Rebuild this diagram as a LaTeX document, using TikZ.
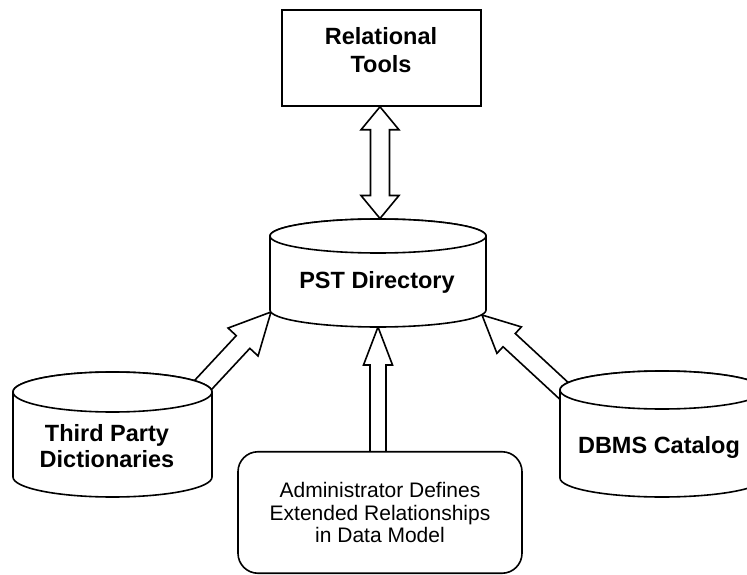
\documentclass[tikz,border=0pt]{standalone}
\usepackage{fontspec}
\setmainfont{Liberation Sans}
\usetikzlibrary{calc}
\tikzset{
  boxline/.style={draw=black, fill=white, line width=1.6pt},
  boldtxt/.style={font=\fontsize{23.5}{27}\selectfont\bfseries, align=center, inner sep=0pt},
  regtxt/.style={font=\fontsize{21}{22.5}\selectfont, align=center, inner sep=0pt},
}
% cylinder: cx, ytop, ybot, rx, ry
\newcommand{\drawcyl}[5]{%
  \filldraw[boxline] (#1-#4,#2) -- (#1-#4,#3)
    arc[start angle=180,end angle=0,x radius=#4,y radius=#5] -- (#1+#4,#2)
    arc[start angle=0,end angle=-180,x radius=#4,y radius=#5] -- cycle;
  \draw[boxline] (#1,#2) ellipse[x radius=#4, y radius=#5];
}
% block arrow: tail, tip, shaft half width, head half width, head length
\newcommand{\blockarrow}[5]{%
  \coordinate (baH) at ($(#2)!#5!(#1)$);
  \filldraw[boxline, line join=miter]
    ($(#1)!#3!90:(#2)$) -- ($(baH)!#3!90:(#2)$) -- ($(baH)!#4!90:(#2)$) -- (#2)
    -- ($(baH)!#4!-90:(#2)$) -- ($(baH)!#3!-90:(#2)$) -- ($(#1)!#3!-90:(#2)$) -- cycle;
}
% double block arrow: tip1, tip2, shaft half width, head half width, head length
\newcommand{\dblarrow}[5]{%
  \coordinate (daA) at ($(#1)!#5!(#2)$);
  \coordinate (daB) at ($(#2)!#5!(#1)$);
  \filldraw[boxline, line join=miter] (#1) -- ($(daA)!#4!90:(#2)$) -- ($(daA)!#3!90:(#2)$)
    -- ($(daB)!#3!90:(#2)$) -- ($(daB)!#4!90:(#2)$) -- (#2)
    -- ($(daB)!#4!-90:(#2)$) -- ($(daB)!#3!-90:(#2)$)
    -- ($(daA)!#3!-90:(#2)$) -- ($(daA)!#4!-90:(#2)$) -- cycle;
}
\begin{document}
\begin{tikzpicture}[x=1pt,y=-1pt]
\fill[white] (0,0) rectangle (747,575);
\useasboundingbox (0,0) rectangle (747,575);
\clip (0,0) rectangle (747,575);

% Relational Tools box
\node[boxline, minimum width=199pt, minimum height=96pt, inner sep=0pt] (rt) at (381.5,58) {};
\node[boldtxt, font=\fontsize{23.5}{28}\selectfont\bfseries] (rtText) at (381,50) {Relational\\Tools};

% connector end points
\coordinate (rtS) at ($(rt.south)+(-1.5,0)$);
\coordinate (pstTop) at (380,218.5);
\coordinate (pstSW) at (271,312);
\coordinate (pstS) at (378,327);
\coordinate (pstSE) at (482,315);
\coordinate (tpdIn) at (190,399);
\coordinate (adminIn) at (378,470);
\coordinate (dbmsIn) at (589,414);

% arrows
\dblarrow{rtS}{pstTop}{9.5pt}{19pt}{23pt}
\blockarrow{tpdIn}{pstSW}{9.3pt}{20.5pt}{41pt}
\blockarrow{adminIn}{pstS}{8pt}{14.5pt}{38pt}
\blockarrow{dbmsIn}{pstSE}{9pt}{18pt}{37pt}

% PST Directory
\drawcyl{378}{236}{310}{108}{17}
\node[boldtxt, anchor=base] (pst) at (377,288) {PST Directory};

% Third Party Dictionaries
\drawcyl{112.5}{392}{477}{99.5}{20}
\node[boldtxt, font=\fontsize{23.5}{26}\selectfont\bfseries] (tpd) at (107,446.5) {Third Party\\Dictionaries};

% DBMS Catalog
\drawcyl{662}{390}{478}{102}{19}
\node[boldtxt, anchor=base] (dbms) at (659,453) {DBMS Catalog};

% Administrator box
\node[boxline, rounded corners=20pt, minimum width=284pt, minimum height=121.5pt, regtxt] (admin) at (380,512.5)
  {Administrator Defines\\Extended Relationships\\in Data Model};
\end{tikzpicture}
\end{document}
